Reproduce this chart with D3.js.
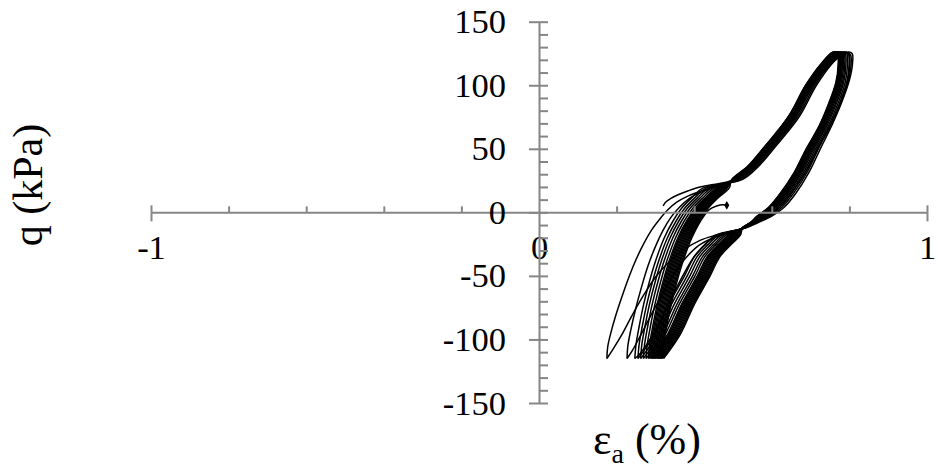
<!DOCTYPE html>
<html>
<head>
<meta charset="utf-8">
<script src="https://cdn.jsdelivr.net/npm/d3@7"></script>
<style>
  body { margin: 0; background: #fff; }
  svg { display: block; }
  text { font-family: "Liberation Serif", "Times New Roman", serif; fill: #000; }
</style>
</head>
<body>
<div id="chart"></div>
<script>
// tick values
const xMinorTicks = [-0.8, -0.6, -0.4, -0.2, 0.2, 0.4, 0.6, 0.8];
const xMajorTicks = [-1, 1];
const xTickLabels = [-1, 0, 1];
const yMajorTicks = [-150, -100, -50, 0, 50, 100, 150];
const yMinorTicks = [-150, -140, -130, -120, -110, -100, -90, -80, -70, -60, -50, -40, -30, -20, -10, 0,
                     10, 20, 30, 40, 50, 60, 70, 80, 90, 100, 110, 120, 130, 140, 150];

// cyclic test, [axial strain %, q kPa]
const cycle01 = [[0.320,5],[0.326,8],[0.340,11],[0.360,14],[0.385,17],[0.415,20],[0.450,22],[0.485,24],[0.515,28],[0.545,37],[0.585,51],[0.630,69],[0.680,90],[0.725,108],[0.765,120],[0.795,126],
  [0.807,125],[0.808,117],[0.800,104],[0.782,88],[0.757,70],[0.725,50],[0.695,31],[0.662,15],[0.632,4],[0.600,-3],[0.565,-8],[0.535,-12],[0.495,-15],[0.455,-18],[0.415,-22],[0.375,-29],[0.335,-39],[0.300,-51],[0.270,-65],[0.240,-81],[0.212,-97],[0.190,-108],[0.175,-115]];
const cycle02 = [[0.175,-115],[0.177,-106],[0.185,-95],[0.197,-82],[0.212,-68],[0.228,-54],[0.246,-40],[0.266,-27],[0.290,-14],[0.312,-5],[0.332,2],[0.355,8],[0.385,13],[0.420,17],[0.455,20],[0.495,24],[0.530,32],[0.570,46],[0.615,63],[0.665,84],[0.715,105],[0.757,120],[0.792,126],
  [0.803,124],[0.804,115],[0.796,102],[0.778,87],[0.752,69],[0.720,50],[0.690,31],[0.656,15],[0.626,4],[0.595,-3],[0.560,-8],[0.532,-12],[0.490,-16],[0.450,-20],[0.412,-26],[0.378,-36],[0.345,-50],[0.315,-66],[0.285,-83],[0.258,-99],[0.240,-109],[0.227,-115]];
const cycle03 = [[0.227,-115],[0.229,-105],[0.237,-92],[0.249,-76],[0.264,-59],[0.281,-42],[0.300,-27],[0.320,-14],[0.340,-4],[0.362,4],[0.388,11],[0.418,16],[0.452,20],[0.490,24],[0.525,30],[0.565,44],[0.610,61],[0.660,83],[0.710,104],[0.752,119],[0.788,126],
  [0.799,124],[0.801,115],[0.794,102],[0.776,86],[0.750,68],[0.716,49],[0.686,31],[0.651,15],[0.621,4],[0.591,-3],[0.557,-8],[0.533,-12],[0.460,-18],[0.432,-24],[0.402,-34],[0.374,-48],[0.340,-68],[0.305,-90],[0.275,-105],[0.258,-112],[0.247,-115]];
const cycle04 = [[0.247,-115],[0.250,-104],[0.258,-90],[0.270,-72],[0.285,-54],[0.303,-36],[0.323,-20],[0.345,-7],[0.367,3],[0.392,11],[0.422,19],[0.525,26],[0.565,36],[0.610,52],[0.670,75],[0.715,100],[0.755,117],[0.785,126],
  [0.797,125],[0.799,116],[0.793,102],[0.775,86],[0.750,68],[0.715,49],[0.685,31],[0.650,15],[0.620,4],[0.590,-3],[0.556,-8],[0.534,-12],[0.455,-18],[0.430,-25],[0.400,-35],[0.375,-50],[0.335,-72],[0.300,-95],[0.270,-109],[0.255,-115]];
const cycle05 = [[0.255,-115],[0.258,-104],[0.266,-90],[0.278,-72],[0.293,-54],[0.311,-36],[0.331,-20],[0.353,-7],[0.375,3],[0.400,11],[0.430,19],[0.521,26],[0.561,36],[0.606,52],[0.666,75],[0.711,100],[0.751,117],[0.781,126],
  [0.793,125],[0.795,116],[0.789,102],[0.771,86],[0.746,68],[0.711,49],[0.681,31],[0.646,15],[0.616,4],[0.586,-3],[0.554,-8],[0.532,-12],[0.462,-18],[0.437,-25],[0.407,-35],[0.382,-50],[0.342,-72],[0.307,-95],[0.277,-109],[0.262,-115]];
const cycle06 = [[0.262,-115],[0.265,-104],[0.273,-90],[0.285,-72],[0.300,-54],[0.318,-36],[0.338,-20],[0.360,-7],[0.382,3],[0.407,11],[0.437,19],[0.517,26],[0.557,36],[0.602,52],[0.662,75],[0.707,100],[0.747,117],[0.777,126],
  [0.789,125],[0.791,116],[0.785,102],[0.767,86],[0.742,68],[0.707,49],[0.677,31],[0.642,15],[0.612,4],[0.582,-3],[0.552,-8],[0.530,-12],[0.469,-18],[0.444,-25],[0.414,-35],[0.389,-50],[0.349,-72],[0.314,-95],[0.284,-109],[0.269,-115]];
const cycle07 = [[0.269,-115],[0.272,-104],[0.280,-90],[0.292,-72],[0.307,-54],[0.325,-36],[0.345,-20],[0.367,-7],[0.389,3],[0.414,11],[0.444,19],[0.514,26],[0.554,36],[0.599,52],[0.659,75],[0.704,100],[0.744,117],[0.774,126],
  [0.786,125],[0.788,116],[0.782,102],[0.764,86],[0.739,68],[0.704,49],[0.674,31],[0.639,15],[0.609,4],[0.579,-3],[0.551,-8],[0.529,-12],[0.476,-18],[0.451,-25],[0.421,-35],[0.396,-50],[0.356,-72],[0.321,-95],[0.291,-109],[0.276,-115]];
const cycle08 = [[0.276,-115],[0.279,-104],[0.287,-90],[0.299,-72],[0.314,-54],[0.332,-36],[0.352,-20],[0.374,-7],[0.396,3],[0.421,11],[0.451,19],[0.511,26],[0.551,36],[0.596,52],[0.656,75],[0.701,100],[0.741,117],[0.771,126],
  [0.783,125],[0.785,116],[0.779,102],[0.761,86],[0.736,68],[0.701,49],[0.671,31],[0.636,15],[0.606,4],[0.576,-3],[0.550,-8],[0.528,-12],[0.482,-18],[0.457,-25],[0.427,-35],[0.402,-50],[0.362,-72],[0.327,-95],[0.297,-109],[0.282,-115]];
const cycle09 = [[0.282,-115],[0.285,-104],[0.293,-90],[0.305,-72],[0.320,-54],[0.338,-36],[0.358,-20],[0.380,-7],[0.402,3],[0.427,11],[0.457,19],[0.508,26],[0.548,36],[0.593,52],[0.653,75],[0.698,100],[0.738,117],[0.768,126],
  [0.780,125],[0.782,116],[0.776,102],[0.758,86],[0.733,68],[0.698,49],[0.668,31],[0.633,15],[0.603,4],[0.573,-3],[0.549,-8],[0.527,-12],[0.488,-18],[0.463,-25],[0.433,-35],[0.408,-50],[0.368,-72],[0.333,-95],[0.303,-109],[0.288,-115]];
const cycle10 = [[0.288,-115],[0.291,-104],[0.299,-90],[0.311,-72],[0.326,-54],[0.344,-36],[0.364,-20],[0.386,-7],[0.408,3],[0.433,11],[0.463,19],[0.506,26],[0.546,36],[0.591,52],[0.651,75],[0.696,100],[0.736,117],[0.766,126],
  [0.778,125],[0.780,116],[0.774,102],[0.756,86],[0.731,68],[0.696,49],[0.666,31],[0.631,15],[0.601,4],[0.571,-3],[0.548,-8],[0.527,-12],[0.494,-18],[0.469,-25],[0.439,-35],[0.414,-50],[0.374,-72],[0.339,-95],[0.309,-109],[0.294,-115]];
const cycle11 = [[0.294,-115],[0.297,-104],[0.305,-90],[0.317,-72],[0.332,-54],[0.350,-36],[0.370,-20],[0.392,-7],[0.414,3],[0.439,11],[0.469,19],[0.504,26],[0.544,36],[0.589,52],[0.649,75],[0.694,100],[0.734,117],[0.764,126],
  [0.776,125],[0.778,116],[0.772,102],[0.754,86],[0.729,68],[0.694,49],[0.664,31],[0.629,15],[0.599,4],[0.569,-3],[0.548,-8],[0.526,-12],[0.500,-18],[0.475,-25],[0.445,-35],[0.420,-50],[0.380,-72],[0.345,-95],[0.315,-109],[0.300,-115]];
const cycle12 = [[0.300,-115],[0.303,-104],[0.311,-90],[0.323,-72],[0.338,-54],[0.356,-36],[0.376,-20],[0.398,-7],[0.420,3],[0.445,11],[0.475,19],[0.502,26],[0.542,36],[0.587,52],[0.647,75],[0.692,100],[0.732,117],[0.762,126],
  [0.774,125],[0.776,116],[0.770,102],[0.752,86],[0.727,68],[0.692,49],[0.662,31],[0.627,15],[0.597,4],[0.567,-3],[0.547,-8],[0.526,-12],[0.506,-18],[0.481,-25],[0.451,-35],[0.426,-50],[0.386,-72],[0.351,-95],[0.321,-109],[0.306,-115]];
const cycle13 = [[0.306,-115],[0.309,-104],[0.317,-90],[0.329,-72],[0.344,-54],[0.362,-36],[0.382,-20],[0.404,-7],[0.426,3],[0.451,11],[0.481,19],[0.500,26],[0.540,36],[0.585,52],[0.645,75],[0.690,100],[0.730,117],[0.760,126],
  [0.772,125],[0.774,116],[0.768,102],[0.750,86],[0.725,68],[0.690,49],[0.660,31],[0.625,15],[0.595,4],[0.565,-3],[0.546,-8],[0.525,-12],[0.512,-18],[0.487,-25],[0.457,-35],[0.432,-50],[0.392,-72],[0.357,-95],[0.327,-109],[0.312,-115]];
const cycle14 = [[0.312,-115],[0.315,-104],[0.323,-90],[0.335,-72],[0.350,-54],[0.368,-36],[0.388,-20],[0.410,-7],[0.432,3],[0.457,11],[0.484,19],[0.498,26],[0.538,36],[0.583,52],[0.643,75],[0.688,100],[0.728,117],[0.758,126],
  [0.770,125],[0.772,116],[0.766,102],[0.748,86],[0.723,68],[0.688,49],[0.658,31],[0.623,15],[0.593,4],[0.563,-3],[0.545,-8],[0.525,-12],[0.516,-18],[0.493,-25],[0.463,-35],[0.438,-50],[0.398,-72],[0.363,-95],[0.333,-109],[0.318,-115]];
// later cycles that pile up in the dense band
const cycle15 = [[0.285,-115],[0.288,-104],[0.296,-90],[0.308,-72],[0.323,-54],[0.341,-36],[0.361,-20],[0.383,-7],[0.405,3],[0.430,11],[0.460,19],[0.507,26],[0.547,36],[0.592,52],[0.652,75],[0.697,100],[0.737,117],[0.767,126],
  [0.779,125],[0.781,116],[0.775,102],[0.757,86],[0.732,68],[0.697,49],[0.667,31],[0.632,15],[0.602,4],[0.572,-3],[0.549,-8],[0.527,-12],[0.491,-18],[0.466,-25],[0.436,-35],[0.411,-50],[0.371,-72],[0.336,-95],[0.306,-109],[0.291,-115]];
const cycle16 = [[0.291,-115],[0.294,-104],[0.302,-90],[0.314,-72],[0.329,-54],[0.347,-36],[0.367,-20],[0.389,-7],[0.411,3],[0.436,11],[0.466,19],[0.505,26],[0.545,36],[0.590,52],[0.650,75],[0.695,100],[0.735,117],[0.765,126],
  [0.777,125],[0.779,116],[0.773,102],[0.755,86],[0.730,68],[0.695,49],[0.665,31],[0.630,15],[0.600,4],[0.570,-3],[0.548,-8],[0.526,-12],[0.497,-18],[0.472,-25],[0.442,-35],[0.417,-50],[0.377,-72],[0.342,-95],[0.312,-109],[0.297,-115]];
const cycle17 = [[0.297,-115],[0.300,-104],[0.308,-90],[0.320,-72],[0.335,-54],[0.353,-36],[0.373,-20],[0.395,-7],[0.417,3],[0.442,11],[0.472,19],[0.503,26],[0.543,36],[0.588,52],[0.648,75],[0.693,100],[0.733,117],[0.763,126],
  [0.775,125],[0.777,116],[0.771,102],[0.753,86],[0.728,68],[0.693,49],[0.663,31],[0.628,15],[0.598,4],[0.568,-3],[0.547,-8],[0.526,-12],[0.503,-18],[0.478,-25],[0.448,-35],[0.423,-50],[0.383,-72],[0.348,-95],[0.318,-109],[0.303,-115]];
const cycle18 = [[0.303,-115],[0.306,-104],[0.314,-90],[0.326,-72],[0.341,-54],[0.359,-36],[0.379,-20],[0.401,-7],[0.423,3],[0.448,11],[0.478,19],[0.501,26],[0.541,36],[0.586,52],[0.646,75],[0.691,100],[0.731,117],[0.761,126],
  [0.773,125],[0.775,116],[0.769,102],[0.751,86],[0.726,68],[0.691,49],[0.661,31],[0.626,15],[0.596,4],[0.566,-3],[0.546,-8],[0.525,-12],[0.509,-18],[0.484,-25],[0.454,-35],[0.429,-50],[0.389,-72],[0.354,-95],[0.324,-109],[0.309,-115]];
const cycle19 = [[0.309,-115],[0.312,-104],[0.320,-90],[0.332,-72],[0.347,-54],[0.365,-36],[0.385,-20],[0.407,-7],[0.429,3],[0.454,11],[0.484,19],[0.499,26],[0.539,36],[0.584,52],[0.644,75],[0.689,100],[0.729,117],[0.759,126],
  [0.771,125],[0.773,116],[0.767,102],[0.749,86],[0.724,68],[0.689,49],[0.659,31],[0.624,15],[0.594,4],[0.564,-3],[0.546,-8],[0.525,-12],[0.515,-18],[0.490,-25],[0.460,-35],[0.435,-50],[0.395,-72],[0.360,-95],[0.330,-109],[0.315,-115]];
const cycle20 = [[0.315,-115],[0.318,-104],[0.326,-90],[0.338,-72],[0.353,-54],[0.371,-36],[0.391,-20],[0.413,-7],[0.435,3],[0.460,11],[0.490,19],[0.497,26],[0.537,36],[0.582,52],[0.642,75],[0.687,100],[0.727,117],[0.757,126],
  [0.769,125],[0.771,116],[0.765,102],[0.747,86],[0.722,68],[0.687,49],[0.657,31],[0.622,15],[0.592,4],[0.562,-3],[0.545,-8],[0.525,-12],[0.519,-18],[0.496,-25],[0.466,-35],[0.441,-50],[0.401,-72],[0.366,-95],[0.336,-109],[0.321,-115]];
// last reload, test stops just above q = 0
const cycle21 = [[0.318,-115],[0.321,-104],[0.329,-90],[0.341,-72],[0.356,-54],[0.374,-36],[0.394,-20],[0.416,-7],[0.438,2],[0.458,5],[0.474,6],[0.484,5.5]];

const cycles = [cycle01, cycle02, cycle03, cycle04, cycle05, cycle06, cycle07, cycle08,
                cycle09, cycle10, cycle11, cycle12, cycle13, cycle14, cycle15, cycle16,
                cycle17, cycle18, cycle19, cycle20, cycle21];

const width = 938;
const height = 472;
const axisColor = "#868686";

const svg = d3.select("#chart")
  .append("svg")
  .attr("width", width)
  .attr("height", height);

// strain on x, deviator stress on y
const x = d3.scaleLinear().domain([-1, 1]).range([151, 927]);
const y = d3.scaleLinear().domain([-150, 150]).range([403, 21.7]);

const line = d3.line()
  .x(d => x(d[0]))
  .y(d => y(d[1]))
  .curve(d3.curveCatmullRom.alpha(0.5));

// hysteresis loops
svg.append("g")
  .selectAll("path")
  .data(cycles)
  .join("path")
  .attr("fill", "none")
  .attr("stroke", "#000")
  .attr("stroke-width", 1.5)
  .attr("d", line);

// end of test marker
const last = cycle21[cycle21.length - 1];
svg.append("path")
  .attr("transform", `translate(${x(last[0])},${y(last[1])})`)
  .attr("d", d3.symbol(d3.symbolDiamond, 22))
  .attr("fill", "#000");

function styleAxis(g) {
  g.selectAll("path.domain").attr("stroke", axisColor).attr("stroke-width", 2);
  g.selectAll(".tick line").attr("stroke", axisColor).attr("stroke-width", 2);
  g.attr("font-family", null).attr("font-size", null);
}

// x axis: minor ticks pointing up, crossing ticks at -1 and 1
const xAxisG = svg.append("g").attr("transform", `translate(0,${y(0)})`);
xAxisG.append("g")
  .call(d3.axisTop(x).tickValues(xMinorTicks).tickSize(6).tickSizeOuter(0).tickFormat(""))
  .call(styleAxis);
xAxisG.append("g")
  .call(d3.axisTop(x).tickValues(xMajorTicks).tickSize(7).tickSizeOuter(0).tickFormat(""))
  .call(styleAxis)
  .call(g => g.select(".domain").remove());
xAxisG.append("g")
  .call(d3.axisBottom(x).tickValues(xMajorTicks).tickSize(9).tickSizeOuter(0).tickFormat(""))
  .call(styleAxis)
  .call(g => g.select(".domain").remove());

// y axis: minor ticks to the right, major ticks cross
const yAxisG = svg.append("g").attr("transform", `translate(${x(0)},0)`);
yAxisG.append("g")
  .call(d3.axisRight(y).tickValues(yMinorTicks).tickSize(9).tickSizeOuter(0).tickFormat(""))
  .call(styleAxis);
yAxisG.append("g")
  .call(d3.axisLeft(y).tickValues(yMajorTicks).tickSize(10).tickSizeOuter(0).tickFormat(""))
  .call(styleAxis)
  .call(g => g.select(".domain").remove());

// tick labels
xAxisG.append("g")
  .call(d3.axisBottom(x).tickValues(xTickLabels).tickSize(0).tickPadding(22).tickFormat(d => String(d)))
  .call(g => g.select(".domain").remove())
  .call(g => g.attr("font-family", null).attr("font-size", null))
  .selectAll("text")
  .attr("font-size", "34.5px")
  .attr("fill", "#000");

yAxisG.append("g")
  .call(d3.axisLeft(y).tickValues(yMajorTicks).tickSize(0).tickPadding(33).tickFormat(d => String(d)))
  .call(g => g.select(".domain").remove())
  .call(g => g.attr("font-family", null).attr("font-size", null))
  .selectAll("text")
  .attr("font-size", "34.5px")
  .attr("fill", "#000");

// axis titles
svg.append("text")
  .attr("transform", "translate(42,185) rotate(-90)")
  .attr("text-anchor", "middle")
  .attr("font-size", "42px")
  .text("q (kPa)");

const xTitle = svg.append("text")
  .attr("x", 593)
  .attr("y", 454)
  .attr("font-size", "44px");
xTitle.append("tspan").text("ε");
xTitle.append("tspan").attr("font-size", "28px").attr("dy", 9).text("a");
xTitle.append("tspan").attr("dy", -9).text(" (%)");
</script>
</body>
</html>
